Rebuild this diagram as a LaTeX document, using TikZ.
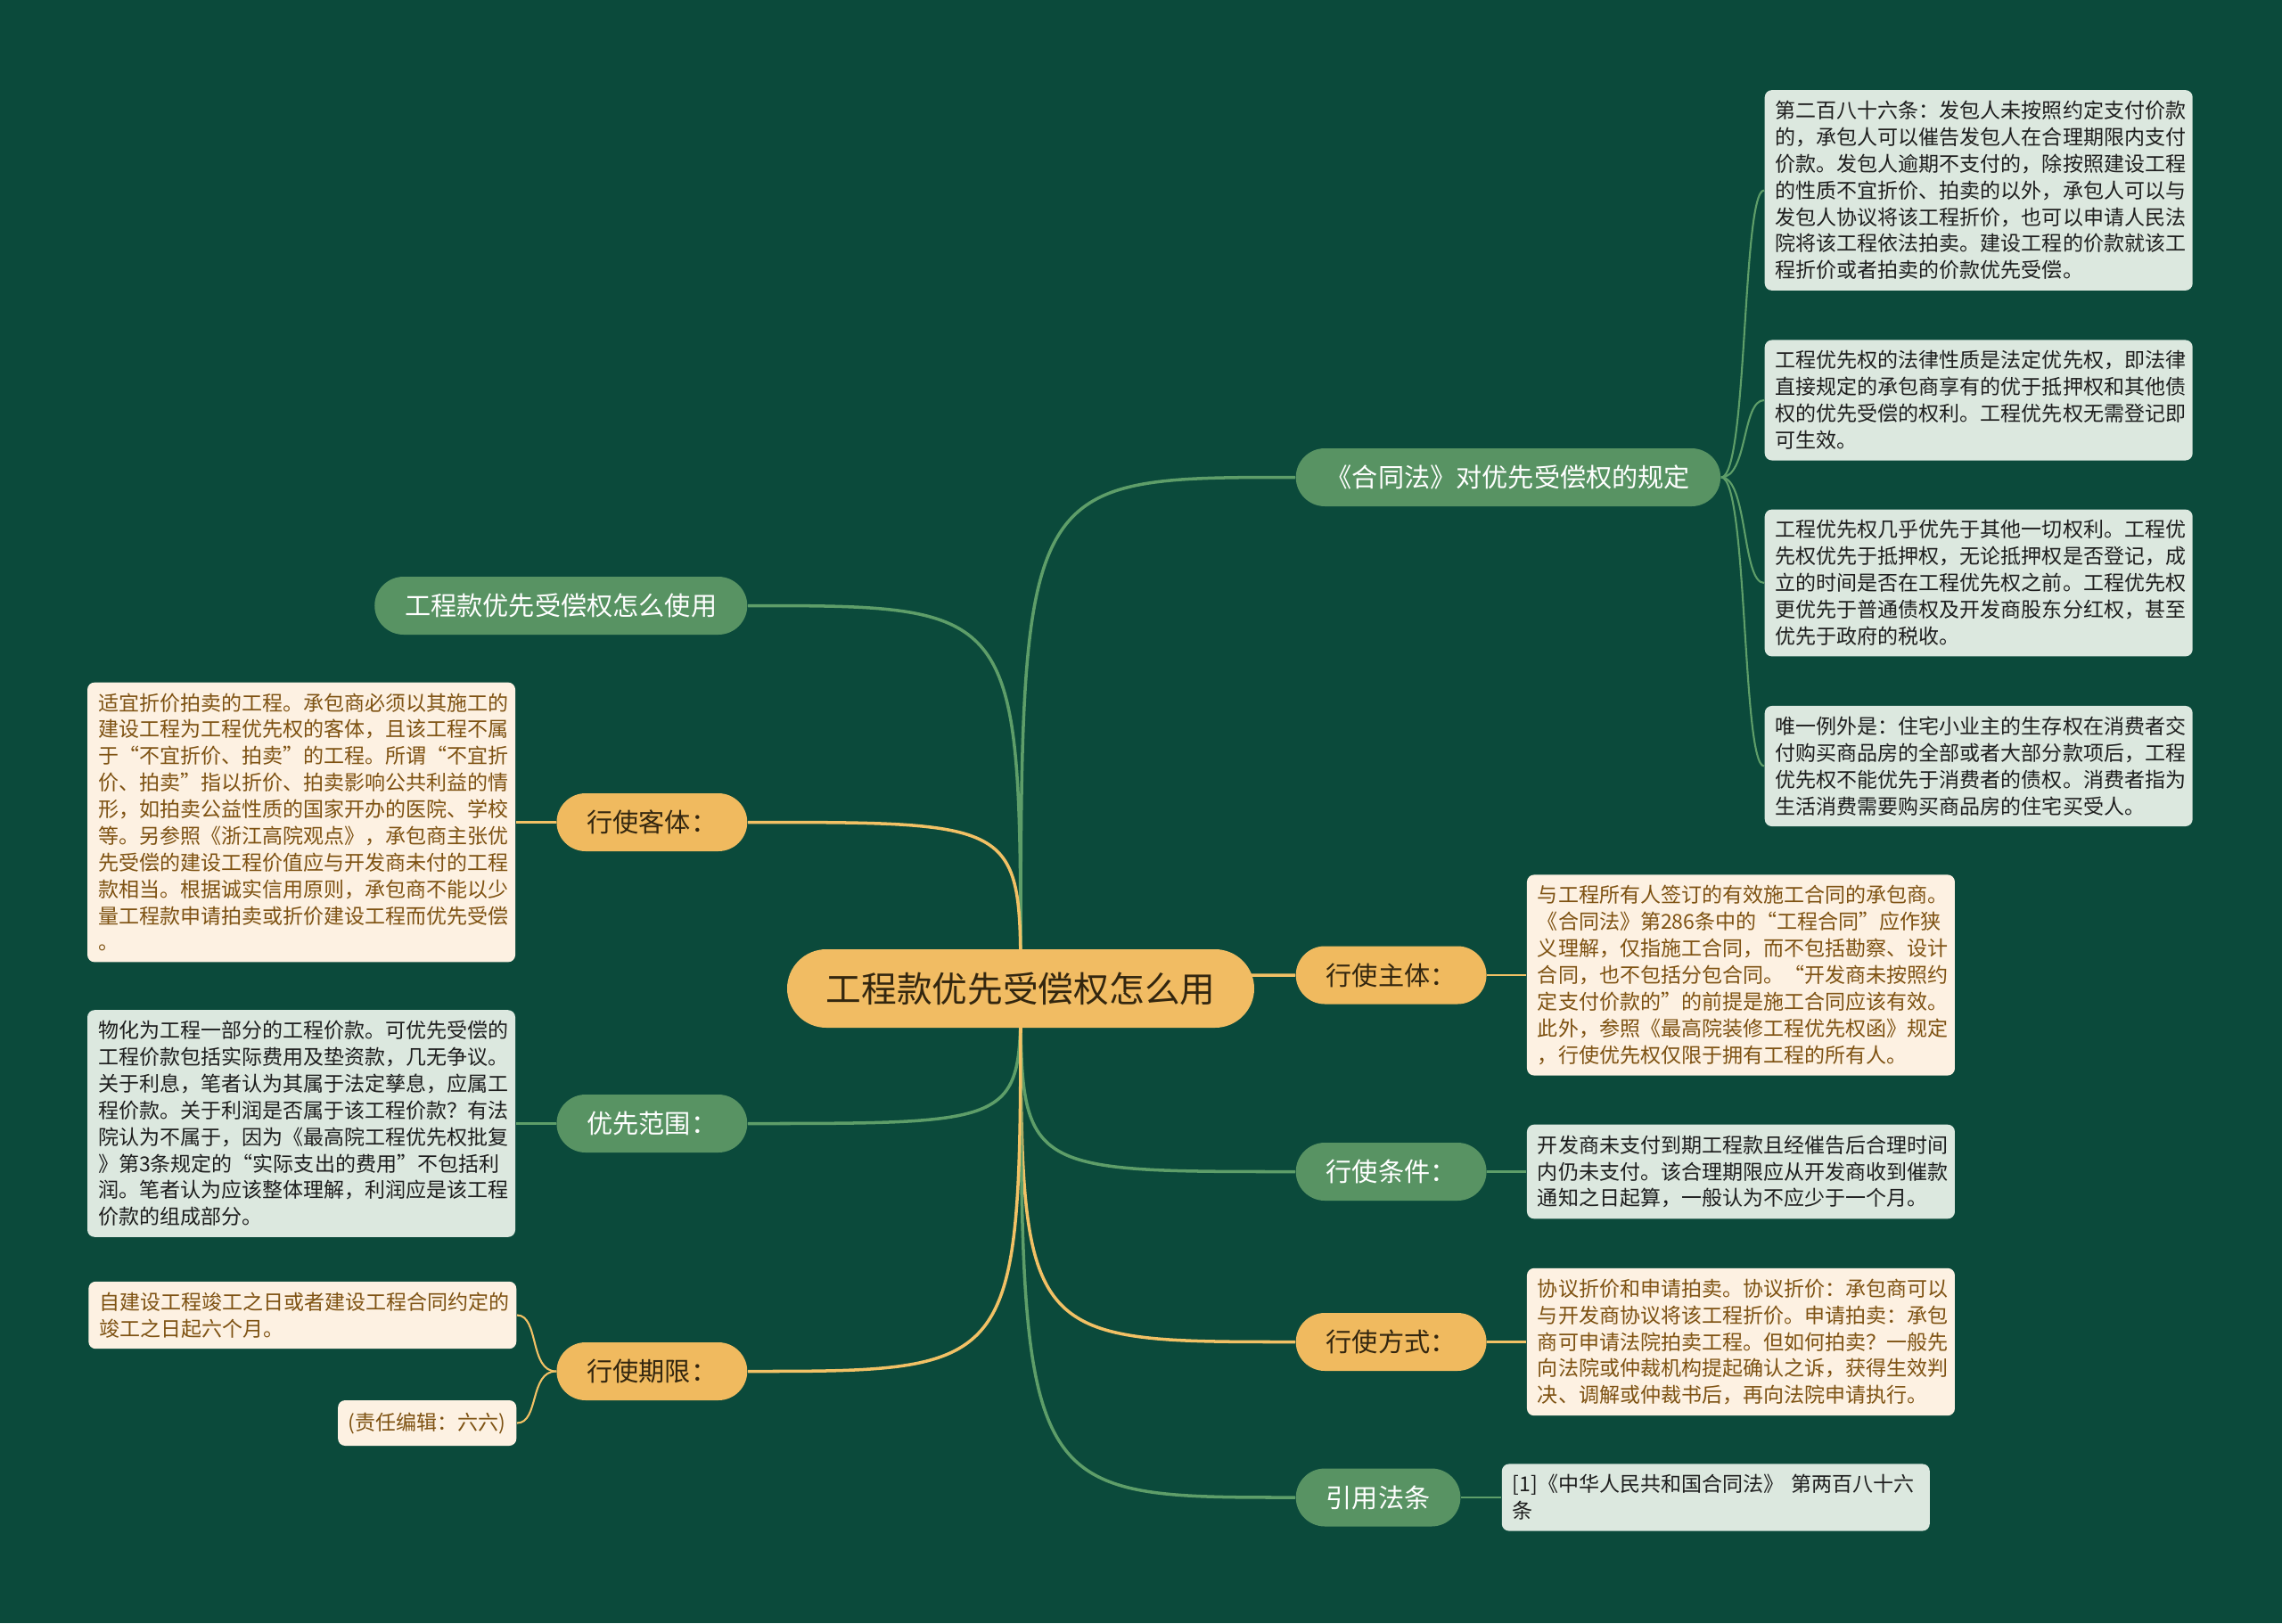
\documentclass[tikz,border=0pt]{standalone}
\usepackage{fontspec}
\setmainfont{Noto Sans CJK SC}
\usetikzlibrary{positioning, calc}

\definecolor{bgdark}{HTML}{0B4A3B}
\definecolor{rootfill}{HTML}{F1BC63}
\definecolor{topicorange}{HTML}{F0BA5F}
\definecolor{topicgreen}{HTML}{589363}
\definecolor{leafcream}{HTML}{FDF1E2}
\definecolor{leafmint}{HTML}{DCE8DF}
\definecolor{leafbrown}{HTML}{7E5212}
\definecolor{leafdark}{HTML}{1E1E1E}
\definecolor{roottext}{HTML}{33260F}
\definecolor{edgeorange}{HTML}{F2C165}
\definecolor{edgegreen}{HTML}{5E9E69}

\pgfdeclarelayer{background}
\pgfdeclarelayer{edges}
\pgfsetlayers{background,edges,main}

\tikzset{
  root/.style={rectangle, rounded corners=0.44cm, minimum width=5.24cm, minimum height=0.88cm, fill=rootfill, text=roottext, font=\fontsize{11.3pt}{13pt}\selectfont},
  orangetopic/.style={rectangle, rounded corners=0.325cm, minimum height=0.65cm, inner xsep=0.34cm, fill=topicorange, text=roottext, font=\fontsize{8.3pt}{10pt}\selectfont},
  greentopic/.style={rectangle, rounded corners=0.325cm, minimum height=0.65cm, inner xsep=0.34cm, fill=topicgreen, text=white, font=\fontsize{8.3pt}{10pt}\selectfont},
  creamleaf/.style={rectangle, rounded corners=0.08cm, text width=4.56cm, inner xsep=0.12cm, inner ysep=0.12cm, align=left, fill=leafcream, text=leafbrown, font=\fontsize{6.55pt}{8.5pt}\selectfont},
  mintleaf/.style={rectangle, rounded corners=0.08cm, text width=4.56cm, inner xsep=0.12cm, inner ysep=0.12cm, align=left, fill=leafmint, text=leafdark, font=\fontsize{6.55pt}{8.5pt}\selectfont},
  creamnote/.style={rectangle, rounded corners=0.08cm, minimum width=1.98cm, minimum height=0.51cm, fill=leafcream, text=leafbrown, font=\fontsize{6.55pt}{8.5pt}\selectfont},
  orangeedge/.style={draw=edgeorange, line width=1pt},
  greenedge/.style={draw=edgegreen, line width=1pt},
  orangetwig/.style={draw=edgeorange, line width=0.6pt},
  greentwig/.style={draw=edgegreen, line width=0.6pt}
}

\begin{document}
\begin{tikzpicture}

  % fondo
  \useasboundingbox (0,0) rectangle (25.6,-18.21);
  \begin{pgfonlayer}{background}
    \fill[bgdark] (0,0) rectangle (25.6,-18.21);
  \end{pgfonlayer}

  % nodo central
  \node (root) [root] at (11.45,-11.09) {工程款优先受偿权怎么用};

  % ramas derechas
  \node (hetong) [greentopic, anchor=west] at (14.53,-5.355) {《合同法》对优先受偿权的规定};
  \node (zhuti) [orangetopic, anchor=west] at (14.53,-10.94) {行使主体：};
  \node (tiaojian) [greentopic, anchor=west] at (14.53,-13.145) {行使条件：};
  \node (fangshi) [orangetopic, anchor=west] at (14.53,-15.055) {行使方式：};
  \node (fatiao) [greentopic, anchor=west] at (14.53,-16.80) {引用法条};

  % ramas izquierdas
  \node (shiyong) [greentopic, anchor=east] at (8.39,-6.795) {工程款优先受偿权怎么使用};
  \node (keti) [orangetopic, anchor=east] at (8.39,-9.225) {行使客体：};
  \node (fanwei) [greentopic, anchor=east] at (8.39,-12.605) {优先范围：};
  \node (qixian) [orangetopic, anchor=east] at (8.39,-15.385) {行使期限：};

  % hojas del 合同法
  \node (hetong_law) [mintleaf, anchor=west] at (19.79,-2.135) {第二百八十六条：发包人未按照约定支付价款\\的，承包人可以催告发包人在合理期限内支付\\价款。发包人逾期不支付的，除按照建设工程\\的性质不宜折价、拍卖的以外，承包人可以与\\发包人协议将该工程折价，也可以申请人民法\\院将该工程依法拍卖。建设工程的价款就该工\\程折价或者拍卖的价款优先受偿。};
  \node (hetong_nature) [mintleaf, anchor=west] at (19.79,-4.49) {工程优先权的法律性质是法定优先权，即法律\\直接规定的承包商享有的优于抵押权和其他债\\权的优先受偿的权利。工程优先权无需登记即\\可生效。};
  \node (hetong_order) [mintleaf, anchor=west] at (19.79,-6.54) {工程优先权几乎优先于其他一切权利。工程优\\先权优先于抵押权，无论抵押权是否登记，成\\立的时间是否在工程优先权之前。工程优先权\\更优先于普通债权及开发商股东分红权，甚至\\优先于政府的税收。};
  \node (hetong_except) [mintleaf, anchor=west] at (19.79,-8.595) {唯一例外是：住宅小业主的生存权在消费者交\\付购买商品房的全部或者大部分款项后，工程\\优先权不能优先于消费者的债权。消费者指为\\生活消费需要购买商品房的住宅买受人。};

  % hojas derechas
  \node (zhuti_note) [creamleaf, right=0.44cm of zhuti] {与工程所有人签订的有效施工合同的承包商。\\《合同法》第286条中的“工程合同”应作狭\\义理解，仅指施工合同，而不包括勘察、设计\\合同，也不包括分包合同。“开发商未按照约\\定支付价款的”的前提是施工合同应该有效。\\此外，参照《最高院装修工程优先权函》规定\\，行使优先权仅限于拥有工程的所有人。};
  \node (tiaojian_note) [mintleaf, right=0.44cm of tiaojian] {开发商未支付到期工程款且经催告后合理时间\\内仍未支付。该合理期限应从开发商收到催款\\通知之日起算，一般认为不应少于一个月。};
  \node (fangshi_note) [creamleaf, right=0.44cm of fangshi] {协议折价和申请拍卖。协议折价：承包商可以\\与开发商协议将该工程折价。申请拍卖：承包\\商可申请法院拍卖工程。但如何拍卖？一般先\\向法院或仲裁机构提起确认之诉，获得生效判\\决、调解或仲裁书后，再向法院申请执行。};
  \node (fatiao_note) [mintleaf, right=0.45cm of fatiao] {[1]《中华人民共和国合同法》 第两百八十六\\条};

  % hojas izquierdas
  \node (keti_note) [creamleaf, left=0.45cm of keti] {适宜折价拍卖的工程。承包商必须以其施工的\\建设工程为工程优先权的客体，且该工程不属\\于“不宜折价、拍卖”的工程。所谓“不宜折\\价、拍卖”指以折价、拍卖影响公共利益的情\\形，如拍卖公益性质的国家开办的医院、学校\\等。另参照《浙江高院观点》，承包商主张优\\先受偿的建设工程价值应与开发商未付的工程\\款相当。根据诚实信用原则，承包商不能以少\\量工程款申请拍卖或折价建设工程而优先受偿\\。};
  \node (fanwei_note) [mintleaf, left=0.45cm of fanwei] {物化为工程一部分的工程价款。可优先受偿的\\工程价款包括实际费用及垫资款，几无争议。\\关于利息，笔者认为其属于法定孳息，应属工\\程价款。关于利润是否属于该工程价款？有法\\院认为不属于，因为《最高院工程优先权批复\\》第3条规定的“实际支出的费用”不包括利\\润。笔者认为应该整体理解，利润应是该工程\\价款的组成部分。};
  \node (qixian_note) [creamleaf, anchor=east] at (5.80,-14.755) {自建设工程竣工之日或者建设工程合同约定的\\竣工之日起六个月。};
  \node (qixian_editor) [creamnote, anchor=east] at (5.80,-15.965) {(责任编辑：六六)};

  \begin{pgfonlayer}{edges}
    % del centro a las ramas
    \draw [greenedge] (root.center) .. controls (root.center |- hetong.west) .. (hetong.west);
    \draw [orangeedge] (root.center) .. controls (root.center |- zhuti.west) .. (zhuti.west);
    \draw [greenedge] (root.center) .. controls (root.center |- tiaojian.west) .. (tiaojian.west);
    \draw [orangeedge] (root.center) .. controls (root.center |- fangshi.west) .. (fangshi.west);
    \draw [greenedge] (root.center) .. controls (root.center |- fatiao.west) .. (fatiao.west);
    \draw [greenedge] (root.center) .. controls (root.center |- shiyong.east) .. (shiyong.east);
    \draw [orangeedge] (root.center) .. controls (root.center |- keti.east) .. (keti.east);
    \draw [greenedge] (root.center) .. controls (root.center |- fanwei.east) .. (fanwei.east);
    \draw [orangeedge] (root.center) .. controls (root.center |- qixian.east) .. (qixian.east);

    % de las ramas a las hojas
    \draw [greentwig] (hetong.east) .. controls +(0.3,0) and +(-0.25,0) .. (hetong_law.west);
    \draw [greentwig] (hetong.east) .. controls +(0.3,0) and +(-0.25,0) .. (hetong_nature.west);
    \draw [greentwig] (hetong.east) .. controls +(0.3,0) and +(-0.25,0) .. (hetong_order.west);
    \draw [greentwig] (hetong.east) .. controls +(0.3,0) and +(-0.25,0) .. (hetong_except.west);
    \draw [orangetwig] (zhuti.east) -- (zhuti_note.west);
    \draw [greentwig] (tiaojian.east) -- (tiaojian_note.west);
    \draw [orangetwig] (fangshi.east) -- (fangshi_note.west);
    \draw [greentwig] (fatiao.east) -- (fatiao_note.west);
    \draw [orangetwig] (keti.west) -- (keti_note.east);
    \draw [greentwig] (fanwei.west) -- (fanwei_note.east);
    \draw [orangetwig] (qixian.west) .. controls +(-0.3,0) and +(0.25,0) .. (qixian_note.east);
    \draw [orangetwig] (qixian.west) .. controls +(-0.3,0) and +(0.25,0) .. (qixian_editor.east);
  \end{pgfonlayer}

\end{tikzpicture}
\end{document}
